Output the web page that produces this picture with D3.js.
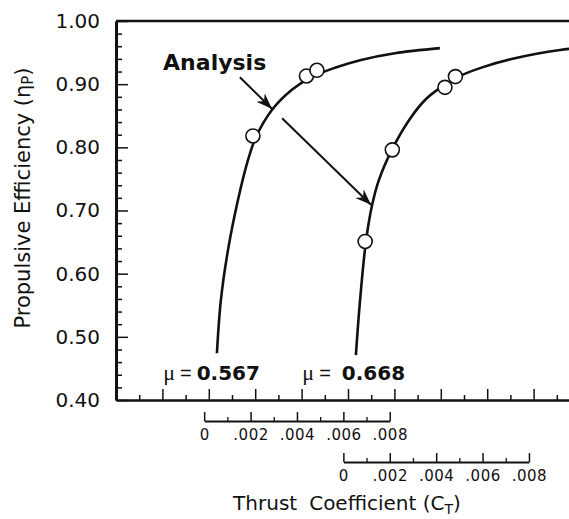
<!DOCTYPE html>
<html>
<head>
<meta charset="utf-8">
<script src="https://cdn.jsdelivr.net/npm/d3@7/dist/d3.min.js"></script>
<style>
  body { margin: 0; background: #fff; }
  text { font-family: 'DejaVu Sans', sans-serif; fill: #111; }
  .axis path, .axis line { stroke: #111; }
</style>
</head>
<body>
<div class="chart"></div>
<script>
// analysis curves, CT measured on each curve's own sub-axis
const curve1CT = [0.00055, 0.00072, 0.00103, 0.00146, 0.00189, 0.00223, 0.00292, 0.00378, 0.00456, 0.00564, 0.00672, 0.00822, 0.01016]
const curve1Eta = [0.474, 0.558, 0.638, 0.717, 0.780, 0.816, 0.859, 0.891, 0.910, 0.926, 0.938, 0.949, 0.957]
const curve2CT = [0.00054, 0.00072, 0.00097, 0.00123, 0.00153, 0.00209, 0.00283, 0.00352, 0.00425, 0.00503, 0.00602, 0.00740, 0.00934, 0.01063]
const curve2Eta = [0.471, 0.558, 0.650, 0.707, 0.748, 0.796, 0.843, 0.875, 0.896, 0.913, 0.927, 0.941, 0.954, 0.959]

// test points
const test1CT = [0.00210, 0.00441, 0.00486]
const test1Eta = [0.818, 0.913, 0.922]
const test2CT = [0.00094, 0.00211, 0.00438, 0.00483]
const test2Eta = [0.651, 0.796, 0.895, 0.912]

const muValues = ['0.567', '0.668']
// where each sub-axis zero sits on the main CT axis
const subOrigins = [0.0038, 0.0098]

const etaTicks = [0.4, 0.5, 0.6, 0.7, 0.8, 0.9, 1.0]
const subTicks = [0, 0.002, 0.004, 0.006, 0.008]
const subTickLabels = ['0', '.002', '.004', '.006', '.008']

const width = 569
const height = 519

const x = d3.scaleLinear().domain([0, 0.02]).range([116, 580])
const y = d3.scaleLinear().domain([0.4, 1.0]).range([400, 21])

const svg = d3
  .select('.chart')
  .append('svg')
  .attr('width', width)
  .attr('height', height)

svg.append('rect').attr('width', width).attr('height', height).attr('fill', '#fff')

const defs = svg.append('defs')
defs
  .append('clipPath')
  .attr('id', 'plot')
  .append('rect')
  .attr('x', 116)
  .attr('y', 21)
  .attr('width', width - 116)
  .attr('height', 379)

defs
  .append('marker')
  .attr('id', 'head')
  .attr('viewBox', '-16 -7 18 14')
  .attr('refX', 0)
  .attr('refY', 0)
  .attr('markerWidth', 18)
  .attr('markerHeight', 14)
  .attr('markerUnits', 'userSpaceOnUse')
  .attr('orient', 'auto')
  .append('path')
  .attr('d', 'M0,0 L-16,-6 L-11,0 L-16,6 Z')
  .attr('fill', '#111')

// main CT axis (no labels)
const minorX = d3.range(1, 20).map(i => i * 0.001)
svg
  .append('g')
  .attr('class', 'axis')
  .attr('transform', `translate(0,${y(0.4)})`)
  .call(d3.axisBottom(x).tickValues(minorX.filter((d, i) => i % 2 === 0)).tickSize(-5).tickFormat(''))
  .call(g => g.select('.domain').remove())
  .selectAll('line')
  .attr('stroke-width', 1.5)

svg
  .append('g')
  .attr('class', 'axis')
  .attr('transform', `translate(0,${y(0.4)})`)
  .call(d3.axisBottom(x).tickValues(minorX.filter((d, i) => i % 2 === 1)).tickSizeInner(-11).tickSizeOuter(0).tickFormat(''))
  .call(g => g.select('.domain').attr('stroke-width', 2.5))
  .selectAll('line')
  .attr('stroke-width', 1.5)

// top frame line
svg
  .append('line')
  .attr('x1', x(0))
  .attr('x2', width)
  .attr('y1', y(1.0))
  .attr('y2', y(1.0))
  .attr('stroke', '#111')
  .attr('stroke-width', 2.5)

// efficiency axis
svg
  .append('g')
  .attr('class', 'axis')
  .attr('transform', `translate(${x(0)},0)`)
  .call(d3.axisLeft(y).tickValues(d3.range(1, 30).map(i => 0.4 + i * 0.02).filter((d, i) => (i + 1) % 5 !== 0)).tickSize(-6).tickFormat(''))
  .call(g => g.select('.domain').remove())
  .selectAll('line')
  .attr('stroke-width', 1.5)

svg
  .append('g')
  .attr('class', 'axis')
  .attr('transform', `translate(${x(0)},0)`)
  .call(d3.axisLeft(y).tickValues(etaTicks).tickSizeInner(-12).tickSizeOuter(0).tickPadding(16).tickFormat(d3.format('.2f')))
  .call(g => g.select('.domain').attr('stroke-width', 3))
  .call(g => g.selectAll('line').attr('stroke-width', 1.5))
  .call(g => g.selectAll('text').attr('font-size', 20).attr('font-family', 'DejaVu Sans').attr('fill', '#111'))

// sub-axes for each curve
const subY = [421, 462]
const subScales = subOrigins.map(o => d3.scaleLinear().domain([0, 0.008]).range([x(o), x(o + 0.008)]))

subScales.forEach((s, k) => {
  svg
    .append('g')
    .attr('class', 'axis')
    .attr('transform', `translate(0,${subY[k]})`)
    .call(d3.axisBottom(s).tickValues([0.001, 0.003, 0.005, 0.007]).tickSize(-4).tickFormat(''))
    .call(g => g.select('.domain').remove())
    .selectAll('line')
    .attr('stroke-width', 1.3)

  svg
    .append('g')
    .attr('class', 'axis')
    .attr('transform', `translate(0,${subY[k]})`)
    .call(d3.axisBottom(s).tickValues(subTicks).tickSizeInner(-9).tickSizeOuter(0).tickPadding(8).tickFormat((d, i) => subTickLabels[i]))
    .call(g => g.select('.domain').attr('stroke-width', 2))
    .call(g => g.selectAll('line').attr('stroke-width', 1.5))
    .call(g => g.selectAll('text').attr('font-size', 15).attr('font-family', 'DejaVu Sans').attr('fill', '#111').attr('letter-spacing', 0.5))
})

// curves and test points
const curves = [
  { origin: subOrigins[0], pts: curve1CT.map((c, i) => ({ ct: c, eta: curve1Eta[i] })), tests: test1CT.map((c, i) => ({ ct: c, eta: test1Eta[i] })) },
  { origin: subOrigins[1], pts: curve2CT.map((c, i) => ({ ct: c, eta: curve2Eta[i] })), tests: test2CT.map((c, i) => ({ ct: c, eta: test2Eta[i] })) },
]

const plot = svg.append('g').attr('clip-path', 'url(#plot)')

curves.forEach(c => {
  const line = d3
    .line()
    .x(d => x(c.origin + d.ct))
    .y(d => y(d.eta))
    .curve(d3.curveCatmullRom.alpha(0.5))

  plot
    .append('path')
    .datum(c.pts)
    .attr('d', line)
    .attr('fill', 'none')
    .attr('stroke', '#111')
    .attr('stroke-width', 2.6)

  plot
    .selectAll(null)
    .data(c.tests)
    .enter()
    .append('circle')
    .attr('cx', d => x(c.origin + d.ct))
    .attr('cy', d => y(d.eta))
    .attr('r', 7)
    .attr('fill', '#fff')
    .attr('stroke', '#111')
    .attr('stroke-width', 1.6)
})

// "Analysis" callout, positions in main-axis units
const calloutText = { ct: 0.00203, eta: 0.922 }
const arrows = [
  { from: [0.00534, 0.911], to: [0.00672, 0.861] },
  { from: [0.00716, 0.846], to: [0.01099, 0.709] },
]

svg
  .append('text')
  .attr('x', x(calloutText.ct))
  .attr('y', y(calloutText.eta))
  .attr('font-size', 22)
  .attr('font-weight', 'bold')
  .text('Analysis')

svg
  .selectAll('.arrow')
  .data(arrows)
  .enter()
  .append('line')
  .attr('class', 'arrow')
  .attr('x1', d => x(d.from[0]))
  .attr('y1', d => y(d.from[1]))
  .attr('x2', d => x(d.to[0]))
  .attr('y2', d => y(d.to[1]))
  .attr('stroke', '#111')
  .attr('stroke-width', 2)
  .attr('marker-end', 'url(#head)')

// mu labels above the main axis
muValues.forEach((m, k) => {
  const t = svg
    .append('text')
    .attr('x', x(subOrigins[k]) - 41)
    .attr('y', 380)
    .attr('font-size', 20)
  t.append('tspan').attr('font-family', 'Liberation Serif').attr('font-size', 22).text('μ')
  t.append('tspan').attr('dx', 5).attr('font-family', 'Liberation Sans').text('=')
  t.append('tspan').attr('dx', k === 0 ? 5 : 11).attr('font-weight', 'bold').text(m)
})

// axis titles
const xt = svg
  .append('text')
  .attr('x', 347)
  .attr('y', 510)
  .attr('text-anchor', 'middle')
  .attr('font-size', 20)
xt.append('tspan').text('Thrust')
xt.append('tspan').attr('dx', 12).text('Coefficient (C')
xt.append('tspan').attr('font-size', 14).attr('dy', 4).text('T')
xt.append('tspan').attr('dy', -4).text(')')

const yt = svg
  .append('text')
  .attr('transform', 'translate(30,198) rotate(-90)')
  .attr('text-anchor', 'middle')
  .attr('font-size', 21)
yt.append('tspan').text('Propulsive Efficiency (η')
yt.append('tspan').attr('font-size', 15).attr('dy', 3).text('P')
yt.append('tspan').attr('dy', -3).text(')')
</script>
</body>
</html>
